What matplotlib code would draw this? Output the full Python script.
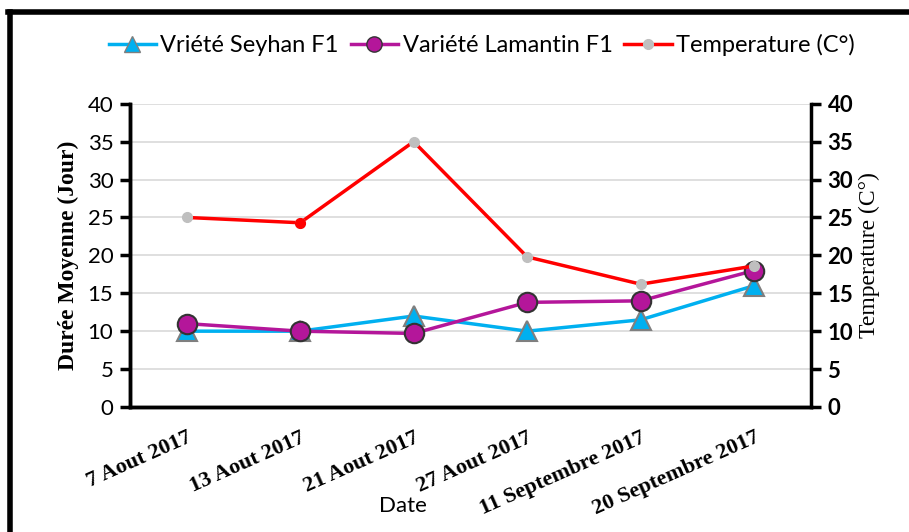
import numpy as np
import matplotlib.pyplot as plt
from matplotlib.lines import Line2D

dates = ['7 Aout 2017', '13 Aout 2017', '21 Aout 2017', '27 Aout 2017',
         '11 Septembre 2017', '20 Septembre 2017']
seyhan = [10, 10, 12, 10, 11.5, 16]
lamantin = [11, 10, 9.7, 13.8, 14, 18]
temperature = [25, 24.3, 35, 19.8, 16.2, 18.6]

x = np.arange(len(dates)) + 0.5

fig = plt.figure(figsize=(9.09, 5.32), dpi=100)
ax = fig.add_axes([0.143, 0.235, 0.749, 0.57])
ax2 = ax.twinx()

ax.plot(x, seyhan, color='#00B0F0', lw=2.5, marker='^', ms=15,
        mfc='#00B0F0', mec='#7F7F7F', mew=1.5, zorder=3)
ax.plot(x, lamantin, color='#B4169A', lw=2.5, marker='o', ms=14,
        mfc='#B4169A', mec='#333333', mew=1.5, zorder=4)
ax2.plot(x, temperature, color='#FF0000', lw=2.5, marker='o', ms=7,
         mfc='#BFBFBF', mec='#BFBFBF', zorder=5)
# the 13 Aout point is drawn with a red marker in the original
ax2.plot(x[1:2], temperature[1:2], ls='none', marker='o', ms=7,
         mfc='#FF0000', mec='#FF0000', zorder=6)

for a in (ax, ax2):
    a.set_ylim(0, 40)
    a.set_yticks(range(0, 41, 5))
    a.set_xlim(0, len(dates))
    a.spines['top'].set_visible(False)
    for s in a.spines.values():
        s.set_linewidth(2.5)

ax.patch.set_visible(False)
ax2.set_zorder(ax.get_zorder() + 1)
ax2.patch.set_visible(False)

ax.yaxis.grid(True, color='#D9D9D9', lw=1.2)
ax.set_axisbelow(True)
ax.spines['right'].set_visible(False)

ax.set_xticks(np.arange(len(dates) + 1))
ax.set_xticklabels([])
ax.set_xticks(x, minor=True)
ax.set_xticklabels(dates, minor=True, rotation=24, ha='right', va='top',
                   rotation_mode='anchor', fontfamily='Liberation Serif',
                   fontweight='bold', fontsize=16)
ax.tick_params(axis='x', which='minor', length=0, pad=15)
ax.tick_params(axis='x', which='major', direction='inout', length=9, width=2.5)
ax.tick_params(axis='y', direction='out', length=7, width=2.5,
               labelsize=16, pad=5)
for t in ax.get_yticklabels():
    t.set_fontfamily('Lato')

ax2.tick_params(axis='y', direction='out', length=7, width=2.5,
                labelsize=16, pad=5)
for t in ax2.get_yticklabels():
    t.set_fontfamily('Lato')
    t.set_fontweight('bold')
ax2.set_xticks([])

ax.set_ylabel('Durée Moyenne (Jour)', fontfamily='Liberation Serif',
              fontweight='bold', fontsize=17, labelpad=6)
ax2.set_ylabel('Temperature (C°)', fontfamily='Liberation Serif',
               fontsize=17, labelpad=4)

fig.text(0.443, 0.048, 'Date', fontfamily='Lato', fontsize=16,
         ha='center', va='center')

handles = [
    Line2D([], [], color='#00B0F0', lw=2.5, marker='^', ms=11,
           mfc='#00B0F0', mec='#7F7F7F'),
    Line2D([], [], color='#B4169A', lw=2.5, marker='o', ms=11,
           mfc='#B4169A', mec='#333333'),
    Line2D([], [], color='#FF0000', lw=2.5, marker='o', ms=7,
           mfc='#BFBFBF', mec='#BFBFBF'),
]
labels = ['Vriété Seyhan F1', 'Variété Lamantin F1', 'Temperature (C°)']
fig.legend(handles, labels, loc='center', bbox_to_anchor=(0.53, 0.915),
           ncol=3, frameon=False, prop={'family': 'Lato', 'size': 17},
           handlelength=2.0, handletextpad=0.2, columnspacing=0.5)

# black frame on the left and top edges
fig.add_artist(Line2D([0.011, 0.011], [0.0, 0.978], color='black', lw=4,
                      transform=fig.transFigure))
fig.add_artist(Line2D([0.009, 1.0], [0.978, 0.978], color='black', lw=4,
                      transform=fig.transFigure))

fig.savefig('out.png', dpi=100)
